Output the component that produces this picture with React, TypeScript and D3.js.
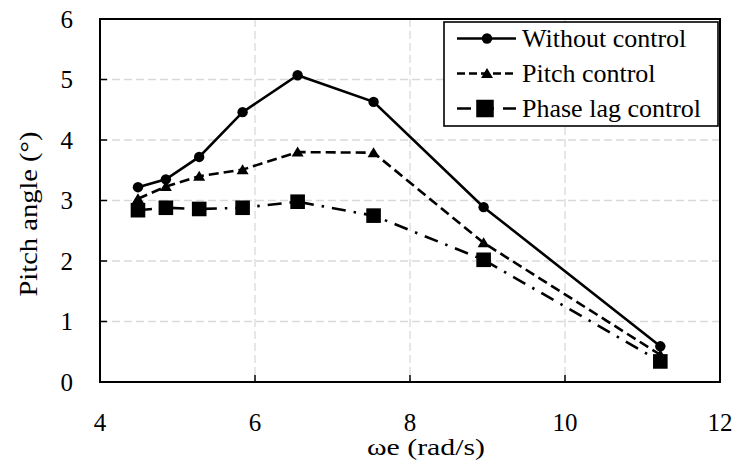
import React from "react";
import * as d3 from "d3";

const omega = [4.49, 4.85, 5.28, 5.84, 6.55, 7.53, 8.95, 11.23];
const withoutControl = [3.22, 3.35, 3.72, 4.46, 5.07, 4.63, 2.89, 0.59];
const pitchControl = [3.03, 3.23, 3.4, 3.51, 3.8, 3.79, 2.3, 0.45];
const phaseLagControl = [2.84, 2.88, 2.86, 2.88, 2.98, 2.75, 2.02, 0.34];
const xTicks = [4, 6, 8, 10, 12];
const yTicks = [0, 1, 2, 3, 4, 5, 6];
const seriesNames = ["Without control", "Pitch control", "Phase lag control"];

const W = 735;
const H = 463;
const L = 100, R = 720, T = 19, B = 382;
const FONT = "Liberation Serif, DejaVu Serif, Times New Roman, serif";

type Marker = "circle" | "triangle" | "square";

function MarkerShape({ type, x, y, s = 1 }: { type: Marker; x: number; y: number; s?: number }) {
  if (type === "circle") return <circle cx={x} cy={y} r={5.2 * s} fill="#000" />;
  if (type === "triangle") {
    const w = 6 * s, h = 10 * s;
    return <path d={`M${x},${y - h * 0.55}L${x + w},${y + h * 0.45}L${x - w},${y + h * 0.45}Z`} fill="#000" />;
  }
  const a = 7.3 * s;
  return <rect x={x - a} y={y - a} width={2 * a} height={2 * a} fill="#000" />;
}

export default function App() {
  const x = d3.scaleLinear().domain([4, 12]).range([L, R]);
  const y = d3.scaleLinear().domain([0, 6]).range([B, T]);

  const series = [
    { name: seriesNames[0], values: withoutControl, dash: "none", marker: "circle" as Marker, width: 2.6 },
    { name: seriesNames[1], values: pitchControl, dash: "10,5", marker: "triangle" as Marker, width: 2.6 },
    { name: seriesNames[2], values: phaseLagControl, dash: "14,8,2.5,8", marker: "square" as Marker, width: 2.6 },
  ];

  const line = d3
    .line<[number, number]>()
    .x((d) => x(d[0]))
    .y((d) => y(d[1]));

  const legendX = 444, legendY = 22, legendW = 274, legendH = 104;
  const rowY = [38.5, 73.5, 108.5];
  const tf = { fontFamily: FONT };

  return (
    <svg width={W} height={H} style={{ position: "absolute", left: 0, top: 0, background: "#fff" }}>
      <rect x={0} y={0} width={W} height={H} fill="#fff" />
      {xTicks.slice(1, -1).map((t) => (
        <line key={"gx" + t} x1={x(t)} x2={x(t)} y1={T} y2={B} stroke="#d9d9d9" strokeWidth={1.3} strokeDasharray="8,4" />
      ))}
      {yTicks.slice(1, -1).map((t) => (
        <line key={"gy" + t} x1={L} x2={R} y1={y(t)} y2={y(t)} stroke="#d9d9d9" strokeWidth={1.3} strokeDasharray="8,4" />
      ))}
      {xTicks.slice(1, -1).map((t) => (
        <line key={"tx" + t} x1={x(t)} x2={x(t)} y1={B} y2={B - 7} stroke="#000" strokeWidth={1.5} />
      ))}
      {yTicks.slice(1, -1).map((t) => (
        <line key={"ty" + t} x1={L} x2={L + 7} y1={y(t)} y2={y(t)} stroke="#000" strokeWidth={1.5} />
      ))}
      <rect x={L} y={T} width={R - L} height={B - T} fill="none" stroke="#000" strokeWidth={2} />
      {xTicks.map((t) => (
        <text key={"lx" + t} x={x(t)} y={431} textAnchor="middle" fontSize={25} fill="#000" style={tf}>
          {t}
        </text>
      ))}
      {yTicks.map((t) => (
        <text key={"ly" + t} x={73} y={y(t)} dy="0.34em" textAnchor="end" fontSize={25} fill="#000" style={tf}>
          {t}
        </text>
      ))}
      <text x={426} y={455} textAnchor="middle" fontSize={24} fill="#000" textLength={118} lengthAdjust="spacingAndGlyphs" style={tf}>
        ωe (rad/s)
      </text>
      <text
        transform={`translate(37,214) rotate(-90)`}
        textAnchor="middle"
        fontSize={25}
        fill="#000"
        textLength={165}
        lengthAdjust="spacingAndGlyphs"
        style={tf}
      >
        Pitch angle (°)
      </text>
      {series.map((s) => {
        const pts = omega.map((o, i) => [o, s.values[i]] as [number, number]);
        return (
          <g key={s.name}>
            <path d={line(pts) || ""} fill="none" stroke="#000" strokeWidth={s.width} strokeDasharray={s.dash} />
            {pts.map((p, i) => (
              <MarkerShape key={i} type={s.marker} x={x(p[0])} y={y(p[1])} />
            ))}
          </g>
        );
      })}
      <rect x={legendX} y={legendY} width={legendW} height={legendH} fill="#fff" stroke="#000" strokeWidth={1.6} />
      {series.map((s, i) => (
        <g key={"leg" + i}>
          <line x1={457} x2={516} y1={rowY[i]} y2={rowY[i]} stroke="#000" strokeWidth={s.width} strokeDasharray={i === 2 ? "14,9,0,0" : i === 1 ? "8,4" : "none"} />
          <MarkerShape type={s.marker} x={i === 2 ? 485 : 487} y={rowY[i]} s={i === 2 ? 1.2 : 1} />
          <text x={522} y={rowY[i] + 8.5} fontSize={26} fill="#000" style={tf}>
            {s.name}
          </text>
        </g>
      ))}
    </svg>
  );
}
